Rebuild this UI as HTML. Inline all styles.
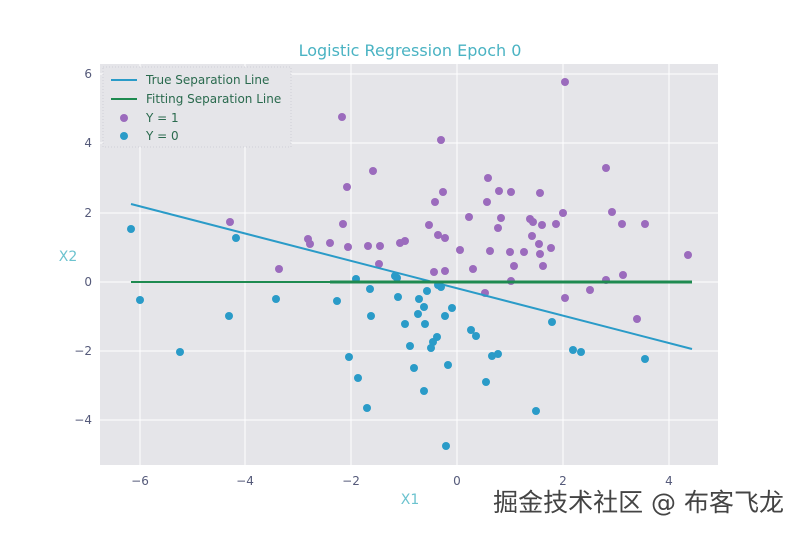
<!DOCTYPE html>
<html><head><meta charset="utf-8"><style>
body{margin:0;background:#fff;width:800px;height:533px;overflow:hidden}
svg text{font-family:"DejaVu Sans","Liberation Sans",sans-serif}
</style></head><body>
<svg width="800" height="533" viewBox="0 0 800 533" xmlns="http://www.w3.org/2000/svg">
<rect x="100" y="64" width="618" height="401" fill="#e5e5e9"/>
<g stroke="#fff" stroke-width="1">
<line x1="140" y1="64" x2="140" y2="465"/><line x1="245" y1="64" x2="245" y2="465"/><line x1="351" y1="64" x2="351" y2="465"/><line x1="457" y1="64" x2="457" y2="465"/><line x1="563" y1="64" x2="563" y2="465"/><line x1="669" y1="64" x2="669" y2="465"/>
<line x1="100" y1="74" x2="718" y2="74"/><line x1="100" y1="143" x2="718" y2="143"/><line x1="100" y1="213" x2="718" y2="213"/><line x1="100" y1="282" x2="718" y2="282"/><line x1="100" y1="351" x2="718" y2="351"/><line x1="100" y1="420" x2="718" y2="420"/>
</g>
<g fill="#555a7a" font-size="12" text-anchor="middle">
<text x="140" y="485">−6</text><text x="245" y="485">−4</text><text x="351" y="485">−2</text><text x="457" y="485">0</text><text x="563" y="485">2</text><text x="669" y="485">4</text>
</g>
<g fill="#555a7a" font-size="12" text-anchor="end">
<text x="92" y="78">6</text><text x="92" y="147">4</text><text x="92" y="217">2</text><text x="92" y="286">0</text><text x="92" y="355">−2</text><text x="92" y="424">−4</text>
</g>
<text x="410" y="504" fill="#6cc3cf" font-size="14" text-anchor="middle">X1</text>
<text x="68" y="261" fill="#6cc3cf" font-size="14" text-anchor="middle">X2</text>
<text x="410" y="56" fill="#4ab3c3" font-size="16" text-anchor="middle">Logistic Regression Epoch 0</text>
<g fill="#9b6bbd">
<circle cx="342" cy="117" r="4"/><circle cx="565" cy="82" r="4"/><circle cx="441" cy="140" r="4"/><circle cx="373" cy="171" r="4"/><circle cx="488" cy="178" r="4"/><circle cx="347" cy="187" r="4"/><circle cx="443" cy="192" r="4"/><circle cx="499" cy="191" r="4"/><circle cx="511" cy="192" r="4"/><circle cx="540" cy="193" r="4"/><circle cx="435" cy="202" r="4"/><circle cx="487" cy="202" r="4"/><circle cx="563" cy="213" r="4"/><circle cx="469" cy="217" r="4"/><circle cx="612" cy="212" r="4"/><circle cx="308" cy="239" r="4"/><circle cx="343" cy="224" r="4"/><circle cx="230" cy="222" r="4"/><circle cx="429" cy="225" r="4"/><circle cx="438" cy="235" r="4"/><circle cx="445" cy="238" r="4"/><circle cx="530" cy="219" r="4"/><circle cx="533" cy="222" r="4"/><circle cx="542" cy="225" r="4"/><circle cx="556" cy="224" r="4"/><circle cx="501" cy="218" r="4"/><circle cx="498" cy="228" r="4"/><circle cx="405" cy="241" r="4"/><circle cx="330" cy="243" r="4"/><circle cx="310" cy="244" r="4"/><circle cx="348" cy="247" r="4"/><circle cx="368" cy="246" r="4"/><circle cx="380" cy="246" r="4"/><circle cx="532" cy="236" r="4"/><circle cx="539" cy="244" r="4"/><circle cx="551" cy="248" r="4"/><circle cx="460" cy="250" r="4"/><circle cx="490" cy="251" r="4"/><circle cx="510" cy="252" r="4"/><circle cx="524" cy="252" r="4"/><circle cx="688" cy="255" r="4"/><circle cx="379" cy="264" r="4"/><circle cx="514" cy="266" r="4"/><circle cx="543" cy="266" r="4"/><circle cx="445" cy="271" r="4"/><circle cx="279" cy="269" r="4"/><circle cx="606" cy="168" r="4"/><circle cx="622" cy="224" r="4"/><circle cx="645" cy="224" r="4"/><circle cx="623" cy="275" r="4"/><circle cx="590" cy="290" r="4"/><circle cx="606" cy="280" r="4"/><circle cx="511" cy="281" r="4"/><circle cx="485" cy="293" r="4"/><circle cx="565" cy="298" r="4"/><circle cx="637" cy="319" r="4"/><circle cx="400" cy="243" r="4"/><circle cx="540" cy="254" r="4"/><circle cx="434" cy="272" r="4"/><circle cx="473" cy="269" r="4"/>
</g>
<g fill="#2a9bc8">
<circle cx="131" cy="229" r="4"/><circle cx="140" cy="300" r="4"/><circle cx="180" cy="352" r="4"/><circle cx="229" cy="316" r="4"/><circle cx="236" cy="238" r="4"/><circle cx="276" cy="299" r="4"/><circle cx="337" cy="301" r="4"/><circle cx="349" cy="357" r="4"/><circle cx="356" cy="279" r="4"/><circle cx="358" cy="378" r="4"/><circle cx="367" cy="408" r="4"/><circle cx="370" cy="289" r="4"/><circle cx="371" cy="316" r="4"/><circle cx="397" cy="278" r="4"/><circle cx="398" cy="297" r="4"/><circle cx="405" cy="324" r="4"/><circle cx="410" cy="346" r="4"/><circle cx="414" cy="368" r="4"/><circle cx="418" cy="314" r="4"/><circle cx="419" cy="299" r="4"/><circle cx="424" cy="307" r="4"/><circle cx="425" cy="324" r="4"/><circle cx="424" cy="391" r="4"/><circle cx="427" cy="291" r="4"/><circle cx="431" cy="348" r="4"/><circle cx="433" cy="342" r="4"/><circle cx="437" cy="337" r="4"/><circle cx="441" cy="287" r="4"/><circle cx="445" cy="316" r="4"/><circle cx="448" cy="365" r="4"/><circle cx="446" cy="446" r="4"/><circle cx="452" cy="308" r="4"/><circle cx="471" cy="330" r="4"/><circle cx="476" cy="336" r="4"/><circle cx="486" cy="382" r="4"/><circle cx="492" cy="356" r="4"/><circle cx="498" cy="354" r="4"/><circle cx="536" cy="411" r="4"/><circle cx="552" cy="322" r="4"/><circle cx="573" cy="350" r="4"/><circle cx="581" cy="352" r="4"/><circle cx="645" cy="359" r="4"/><circle cx="395" cy="276" r="4"/><circle cx="438" cy="285" r="4"/>
</g>
<line x1="131" y1="204" x2="692" y2="349" stroke="#2a9bc8" stroke-width="2"/>
<line x1="131" y1="282" x2="692" y2="282" stroke="#1e8a50" stroke-width="2"/>
<line x1="330" y1="282" x2="692" y2="282" stroke="#1e8a50" stroke-width="3"/>
<rect x="103" y="67" width="188" height="80" fill="#e5e5e9" stroke="#d0d0d6" stroke-dasharray="1,2"/>
<line x1="111" y1="80" x2="137" y2="80" stroke="#2a9bc8" stroke-width="2"/>
<line x1="111" y1="99" x2="137" y2="99" stroke="#1e8a50" stroke-width="2"/>
<circle cx="124" cy="118" r="4" fill="#9b6bbd"/>
<circle cx="124" cy="136" r="4" fill="#2a9bc8"/>
<g fill="#2a6a4e" font-size="12">
<text x="146" y="84">True Separation Line</text>
<text x="146" y="103">Fitting Separation Line</text>
<text x="146" y="122">Y = 1</text>
<text x="146" y="140">Y = 0</text>
</g>
<text x="784" y="511" fill="#444" font-size="25" text-anchor="end" font-family="'Liberation Sans','Noto Sans CJK SC',sans-serif" style="paint-order:stroke" stroke="#fff" stroke-width="2">掘金技术社区 @ 布客飞龙</text>
</svg>
</body></html>
